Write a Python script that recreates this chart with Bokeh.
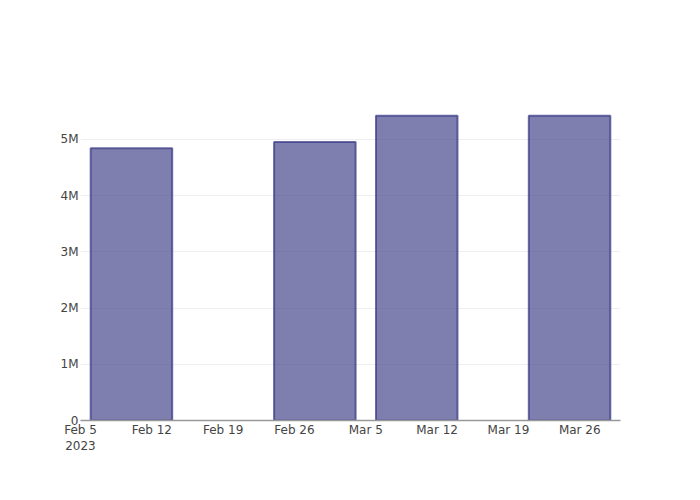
from datetime import datetime
from bokeh.plotting import figure
from bokeh.models import Range1d, FixedTicker, ColumnDataSource
from bokeh.embed import file_html
from bokeh.resources import INLINE

# Data
dates = ["2023-02-10", "2023-02-28", "2023-03-10", "2023-03-25"]
values = [4.84e6, 4.95e6, 5.42e6, 5.42e6]
x_tick_dates = ["2023-02-05", "2023-02-12", "2023-02-19", "2023-02-26",
                "2023-03-05", "2023-03-12", "2023-03-19", "2023-03-26"]
x_tick_labels = ["Feb 5\n2023", "Feb 12", "Feb 19", "Feb 26",
                 "Mar 5", "Mar 12", "Mar 19", "Mar 26"]
y_ticks = [0, 1e6, 2e6, 3e6, 4e6, 5e6]
y_tick_labels = ["0", "1M", "2M", "3M", "4M", "5M"]

def ms(s):
    return (datetime.strptime(s, "%Y-%m-%d") - datetime(1970, 1, 1)).total_seconds() * 1000

xs = [ms(d) for d in dates]
bar_width = 8 * 24 * 3600 * 1000

src = ColumnDataSource(dict(x=xs, top=values))

p = figure(width=684, height=484, output_backend="svg", toolbar_location=None,
           x_axis_type="datetime",
           x_range=Range1d(ms("2023-02-05"), ms("2023-03-30")),
           y_range=Range1d(0, 5.69e6),
           min_border_left=80, min_border_right=64, min_border_top=100, min_border_bottom=64)
p.frame_width = 540
p.frame_height = 320
p.outline_line_color = None
p.background_fill_color = "white"
p.border_fill_color = "white"

p.vbar(x="x", top="top", width=bar_width, source=src,
       fill_color="#47488b", fill_alpha=0.7,
       line_color="#3b3b88", line_alpha=0.75, line_width=2)

font = "DejaVu Sans"
tick_ms = [ms(d) for d in x_tick_dates]
p.xaxis.ticker = FixedTicker(ticks=tick_ms)
p.xaxis.major_label_overrides = {t: l for t, l in zip(tick_ms, x_tick_labels)}
p.yaxis.ticker = FixedTicker(ticks=y_ticks)
p.yaxis.major_label_overrides = {t: l for t, l in zip(y_ticks, y_tick_labels)}

for ax in (p.xaxis, p.yaxis):
    ax.major_tick_line_color = None
    ax.minor_tick_line_color = None
    ax.major_tick_out = 0
    ax.major_tick_in = 0
    ax.minor_tick_out = 0
    ax.minor_tick_in = 0
    ax.major_label_text_font = font
    ax.major_label_text_font_size = "12px"
    ax.major_label_text_color = "#444444"
    ax.major_label_standoff = 2
p.yaxis.axis_line_color = None
p.xaxis.axis_line_color = "#999999"
p.xaxis.axis_line_width = 1.6

p.xgrid.grid_line_color = None
p.ygrid.grid_line_color = "#eeeeee"
p.ygrid.grid_line_width = 1

open("out.html", "w").write(file_html(p, INLINE))
